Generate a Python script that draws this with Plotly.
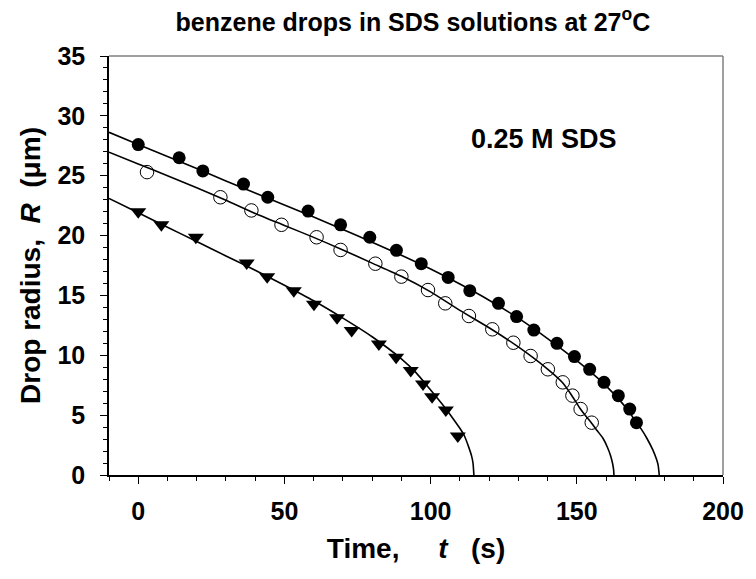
import plotly.graph_objects as go

# Measured drop radii (um) versus time (s) for three drops
t_filled = [0, 14.0, 22.1, 36.0, 44.3, 58.1, 69.2, 79.2, 88.3, 96.8, 106.0, 113.4,
            123.2, 129.4, 135.3, 143.2, 149.2, 154.4, 159.3, 164.2, 168.1, 170.4]
r_filled = [27.6, 26.5, 25.4, 24.3, 23.2, 22.05, 20.9, 19.86, 18.77, 17.65, 16.5, 15.4,
            14.34, 13.23, 12.11, 11.0, 9.89, 8.83, 7.74, 6.63, 5.51, 4.37]

t_open = [3.0, 28.1, 38.7, 49.0, 61.0, 69.2, 81.1, 90.0, 99.1, 105.0, 113.1, 121.1,
          128.3, 134.2, 140.1, 145.2, 148.5, 151.3, 155.1]
r_open = [25.3, 23.2, 22.1, 20.9, 19.86, 18.8, 17.65, 16.57, 15.45, 14.34, 13.28, 12.17,
          11.05, 9.94, 8.83, 7.74, 6.63, 5.51, 4.37]

t_tri = [0, 7.9, 19.7, 37.1, 44.1, 53.2, 60.1, 68.0, 73.0, 82.3, 88.2, 93.2,
         97.4, 100.5, 105.2, 109.3]
r_tri = [22.0, 20.9, 19.86, 17.7, 16.57, 15.4, 14.26, 13.14, 12.06, 10.94, 9.83, 8.72,
         7.6, 6.54, 5.43, 3.26]

# Fitted dissolution curves (read as point lists)
fit_filled_t = [-10, 0, 10, 20, 30, 40, 50, 60, 70, 80, 90, 100, 110, 120, 130, 140,
                150, 155, 160, 165, 168, 170, 172, 174, 176, 177.2, 177.8, 178.2]
fit_filled_r = [28.63, 27.6, 26.6, 25.6, 24.55, 23.55, 22.55, 21.55, 20.5, 19.45, 18.35,
                17.2, 15.95, 14.6, 13.1, 11.4, 9.55, 8.55, 7.45, 6.15, 5.25, 4.5, 3.85,
                3.05, 2.1, 1.35, 0.85, 0.0]

fit_open_t = [-10, 0, 10, 20, 30, 40, 50, 60, 70, 80, 90, 100, 110, 120, 130, 140,
              145, 148, 151, 153, 155, 157, 159, 160.5, 161.5, 162.2, 162.6, 162.7]
fit_open_r = [26.96, 25.98, 25.0, 24.0, 22.95, 21.85, 20.85, 19.85, 18.8, 17.7, 16.6,
              15.3, 13.75, 12.3, 10.7, 8.85, 7.75, 6.75, 5.6, 4.95, 4.35, 3.7, 3.05,
              2.3, 1.65, 1.0, 0.4, 0.0]

fit_tri_t = [-10, 0, 10, 20, 30, 40, 50, 60, 70, 80, 90, 95, 100, 105, 108, 110,
             111.5, 113, 114, 114.5, 114.8]
fit_tri_r = [23.1, 21.9, 20.7, 19.5, 18.3, 17.1, 15.85, 14.55, 13.1, 11.55, 9.7, 8.55,
             7.1, 5.6, 4.6, 3.9, 3.3, 2.35, 1.6, 1.0, 0.0]

FONT = "Liberation Sans, Arial, sans-serif"
SP = "\u00a0"

fig = go.Figure()

for ft, fr in [(fit_filled_t, fit_filled_r), (fit_open_t, fit_open_r), (fit_tri_t, fit_tri_r)]:
    fig.add_trace(go.Scatter(x=ft, y=fr, mode="lines",
                             line=dict(color="black", width=1.6, shape="spline", smoothing=0.6),
                             hoverinfo="skip", showlegend=False))

fig.add_trace(go.Scatter(x=t_filled, y=r_filled, mode="markers",
                         marker=dict(symbol="circle", size=13, color="black"),
                         showlegend=False))
fig.add_trace(go.Scatter(x=t_open, y=r_open, mode="markers",
                         marker=dict(symbol="circle-open", size=13.5, color="black",
                                     line=dict(width=1)),
                         showlegend=False))
fig.add_trace(go.Scatter(x=t_tri, y=r_tri, mode="markers",
                         marker=dict(symbol="triangle-down", size=14, color="black"),
                         showlegend=False))

axis_common = dict(
    showline=True, linecolor="black", linewidth=1.5,
    ticks="outside", ticklen=7, tickwidth=1.2, tickcolor="black",
    showgrid=False, zeroline=False,
    tickfont=dict(family=FONT, size=25, color="black", weight="bold"),
)

fig.update_xaxes(
    range=[-10, 200], dtick=50, tick0=0,
    minor=dict(dtick=10, ticks="outside", ticklen=4, tickcolor="black", tickwidth=1),
    ticklabelstandoff=6,
    title=dict(text="Time," + SP * 5 + "<i>t</i>" + SP * 3 + "(s)", standoff=15,
               font=dict(family=FONT, size=28, color="black", weight="bold")),
    **axis_common,
)
fig.update_yaxes(
    range=[0, 35], dtick=5, tick0=0,
    minor=dict(dtick=1, ticks="outside", ticklen=4, tickcolor="black", tickwidth=1),
    ticklabelstandoff=10,
    title=dict(text=SP * 3 + "Drop radius," + SP * 2 + "<i>R</i>" + SP * 2 + "(\u03bcm)",
               standoff=9,
               font=dict(family=FONT, size=28, color="black", weight="bold")),
    **axis_common,
)

# top and right frame lines
fig.add_shape(type="line", xref="paper", yref="paper", x0=0, x1=1, y0=1, y1=1,
              line=dict(color="#808080", width=1.5))
fig.add_shape(type="line", xref="paper", yref="paper", x0=1, x1=1, y0=0, y1=1,
              line=dict(color="#808080", width=1.5))

fig.add_annotation(text="0.25 M SDS", xref="paper", yref="paper", x=0.708, y=0.802,
                   showarrow=False, xanchor="center", yanchor="middle",
                   font=dict(family=FONT, size=27, color="black", weight="bold"))

fig.update_layout(
    width=756, height=579,
    margin=dict(l=109, r=23, t=56, b=104),
    plot_bgcolor="white", paper_bgcolor="white",
    title=dict(text="benzene drops in SDS solutions at 27<sup>o</sup>C",
               x=0.495, xref="paper", xanchor="center",
               y=1 - 22 / 579, yref="container", yanchor="middle",
               font=dict(family=FONT, size=25, color="black", weight="bold")),
)

fig.write_html("out.html")
